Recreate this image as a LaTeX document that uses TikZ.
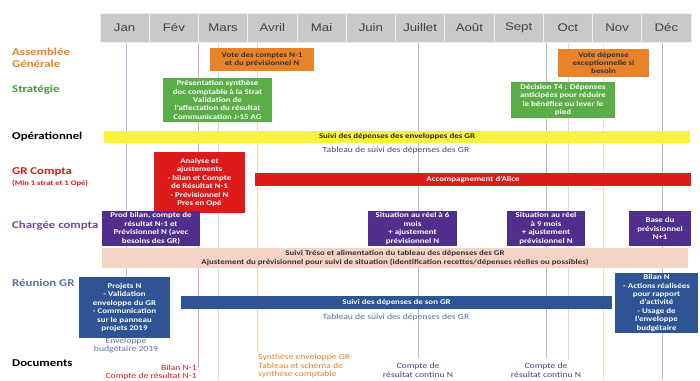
\documentclass[tikz,border=0pt]{standalone}
\usepackage{fontspec}
\setmainfont{Carlito}[FakeStretch=1.22]
\newfontfamily\monthfont{Liberation Sans}[FakeStretch=1.2]
\usepackage{tikz}

\definecolor{headgrey}{HTML}{C9C9C9}
\definecolor{headsep}{HTML}{EEEEEE}
\definecolor{agorange}{HTML}{E8832A}
\definecolor{stratgreen}{HTML}{5BAD47}
\definecolor{opyellow}{HTML}{F8F43C}
\definecolor{grred}{HTML}{DE1B1B}
\definecolor{ccpurple}{HTML}{4F2E8C}
\definecolor{trpink}{HTML}{F5D4C7}
\definecolor{rgblue}{HTML}{2F5496}
\definecolor{tabblue}{HTML}{44448F}
\definecolor{greyblue}{HTML}{5D6EA6}
\definecolor{lavline}{HTML}{BDBDDA}
\definecolor{pinkline}{HTML}{F2A3A3}
\definecolor{greenline}{HTML}{CDE6C4}
\definecolor{orangeline}{HTML}{F7D2AC}
\definecolor{greyline}{HTML}{BCBCCB}
\definecolor{yellowline}{HTML}{F6E7A6}

\tikzset{
  monthcell/.style={fill=headgrey, draw=headsep, line width=0.8pt, minimum width=49.25, minimum height=29, inner sep=0, font=\monthfont\fontsize{11}{11}\selectfont, text=black!75},
  rowlabel/.style={anchor=west, align=left, inner sep=0, font=\bfseries\fontsize{10.5}{12}\selectfont},
  box/.style={fill=#1, inner sep=1, align=center, text=white, font=\bfseries\fontsize{7.3}{8.4}\selectfont},
  note/.style={inner sep=0, font=\fontsize{7.9}{8.6}\selectfont},
  vline/.style={line width=0.9pt, draw=#1},
}

\begin{document}
\begin{tikzpicture}[x=1pt, y=-1pt]
        \useasboundingbox[fill=white] (0,0) rectangle (700,380);

        % Month lines
        \foreach \xl/\yl/\cl in {126/333/lavline, 198/368/pinkline, 218/380/greenline, 257/352/orangeline, 418/358/greyline, 546/358/greyline, 568/360/greenline, 603/380/yellowline, 662/380/greyline}
          \draw[vline=\cl] (\xl,42) -- (\xl,\yl);

        % Months
        \foreach \m [count=\i] in {Jan,Fév,Mars,Avril,Mai,Juin,Juillet,Août,Sept,Oct,Nov,Déc}
          \node[monthcell] (month\i) at ({100+49.25*(\i-0.5)},27.5) {\m};

        % Row labels
        \node[rowlabel, text=agorange] (lblag) at (12,58) {Assemblée\\Générale};
        \node[rowlabel, text=stratgreen!85!black] (lblstrat) at (12,90) {Stratégie};
        \node[rowlabel] (lblop) at (12,137) {Opérationnel};
        \node[rowlabel, text=grred] (lblgr) at (12,172) {GR Compta};
        \node[rowlabel, text=grred, font=\bfseries\fontsize{7}{8}\selectfont] (lblmin) at (12,183) {(Min 1 strat et 1 Opé)};
        \node[rowlabel, text=ccpurple!85] (lblcc) at (12,226) {Chargée compta};
        \node[rowlabel, text=greyblue] (lblreu) at (12,283) {Réunion GR};
        \node[rowlabel] (lbldoc) at (12,363) {Documents};

        % Assemblee generale
        \node[box=agorange, text=black!80, minimum width=104, minimum height=23] (agvote) at (262,59.5) {Vote des comptes N-1\\et du prévisionnel N};
        \node[box=agorange, text=black!80, minimum width=91, minimum height=28] (agexcep) at (603.5,63) {Vote dépense\\exceptionnelle si\\besoin};

        % Strategie
        \node[box=stratgreen, minimum width=109, minimum height=44] (strpres) at (217.5,100) {Présentation synthèse\\doc comptable à la Strat\\Validation de\\l'affectation du résultat\\Communication J-15 AG};
        \node[box=stratgreen, minimum width=104, minimum height=36] (strdec) at (563,100) {Décision T4 : Dépenses\\anticipées pour réduire\\le bénéfice ou lever le\\pied};

        % Operationnel
        \node[box=opyellow, text=black!85, minimum width=586, minimum height=12] (opsuivi) at (397,137) {Suivi des dépenses des enveloppes des GR};
        \node[note, text=tabblue] (optab) at (396,150) {Tableau de suivi des dépenses des GR};

        % GR compta
        \node[box=grred, minimum width=91, minimum height=61] (granalyse) at (199.5,182.5) {Analyse et\\ajustements\\- bilan et Compte\\de Résultat N-1\\- Prévisionnel N\\Pres en Opé};
        \node[box=grred, minimum width=436, minimum height=13] (gralice) at (473,179.5) {Accompagnement d'Alice};

        % Chargee compta
        \node[box=ccpurple, minimum width=98, minimum height=35] (ccprod) at (151,228.5) {Prod bilan, compte de\\résultat N-1 et\\Prévisionnel N (avec\\besoins des GR)};
        \node[box=ccpurple, minimum width=89, minimum height=35] (ccsix) at (412.5,228.5) {Situation au réel à 6\\mois\\+ ajustement\\prévisionnel N};
        \node[box=ccpurple, minimum width=78, minimum height=35] (ccneuf) at (546,228.5) {Situation au réel\\à 9 mois\\+ ajustement\\prévisionnel N};
        \node[box=ccpurple, minimum width=62, minimum height=35] (ccbase) at (660,228.5) {Base du\\prévisionnel\\N+1};
        \node[box=trpink, text=black!80, minimum width=586, minimum height=20] (cctreso) at (395,258) {Suivi Tréso et alimentation du tableau des dépenses des GR\\Ajustement du prévisionnel pour suivi de situation (identification recettes/dépenses réelles ou possibles)};

        % Reunion GR
        \node[box=rgblue, minimum width=91, minimum height=61] (rgprojets) at (124.5,307.5) {Projets N\\- Validation\\enveloppe du GR\\- Communication\\sur le panneau\\projets 2019};
        \node[box=rgblue, minimum width=431, minimum height=13] (rgsuivi) at (396.5,302.5) {Suivi des dépenses de son GR};
        \node[note, text=greyblue] (rgtab) at (396,317) {Tableau de suivi des dépenses des GR};
        \node[box=rgblue, minimum width=83, minimum height=60] (rgbilan) at (656.5,303) {Bilan N\\- Actions réalisées\\pour rapport\\d'activité\\- Usage de\\l'enveloppe\\budgétaire};

        % Documents
        \node[note, text=greyblue, align=center] (docenv) at (126,345.5) {Enveloppe\\budgétaire 2019};
        \node[note, text=grred, align=right, anchor=east] (docbilan) at (197,372.5) {Bilan N-1\\Compte de résultat N-1};
        \node[note, text=agorange, align=left, anchor=west] (docsynth) at (258,366) {Synthèse enveloppe GR\\Tableau et schéma de\\synthèse comptable};
        \node[note, text=tabblue, align=center] (doccont) at (418,370.5) {Compte de\\résultat continu N};
        \node[note, text=tabblue, align=center] (doccontb) at (546,370.5) {Compte de\\résultat continu N};

    \end{tikzpicture}
\end{document}
